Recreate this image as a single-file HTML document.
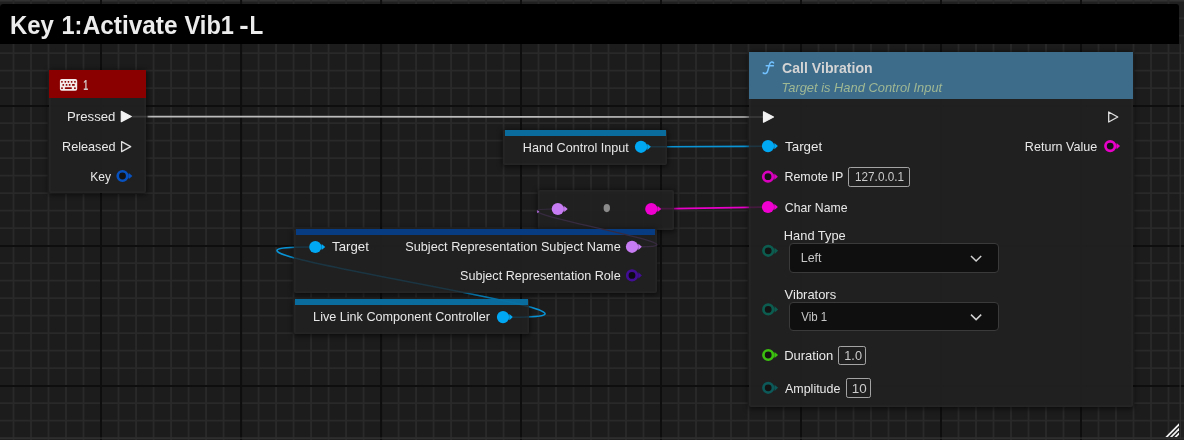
<!DOCTYPE html>
<html><head><meta charset="utf-8"><title>Key 1:Activate Vib1-L</title>
<style>
html,body{margin:0;padding:0;background:#1f1f1f;}
body{width:1184px;height:440px;overflow:hidden;position:relative;font-family:"Liberation Sans", sans-serif;}
svg{position:absolute;left:0;top:0;}
svg text{font-family:"Liberation Sans", sans-serif;white-space:pre;}
.abs{position:absolute;box-sizing:border-box;}
.node{position:absolute;box-sizing:border-box;background:rgba(32,32,32,0.96);border-radius:2px;box-shadow:0 1px 5px 1px rgba(0,0,0,0.55), inset 0 0 0 1.8px rgba(255,255,255,0.022);}
.hdr{position:absolute;box-sizing:border-box;}
.inp{position:absolute;box-sizing:border-box;border:1px solid #a4a4a4;border-radius:2.2px;background:#1f1f1f;}
.dd{position:absolute;box-sizing:border-box;border:1px solid #3a3a3a;border-radius:4px;background:#0f0f0f;}
</style></head><body>

<svg width="1184" height="440" viewBox="0 0 1184 440" style="z-index:0">
<rect x="0" y="0" width="1184" height="440" fill="#202020"/>
<rect x="0" y="4" width="1179.5" height="433.5" fill="#1c1c1c"/>
<rect x="0" y="0" width="1184" height="1.5" fill="#323232"/>
<path d="M13.5 0V440M31.0 0V440M48.5 0V440M66.0 0V440M83.5 0V440M118.5 0V440M136.1 0V440M153.6 0V440M171.1 0V440M188.6 0V440M206.1 0V440M223.6 0V440M258.6 0V440M276.1 0V440M293.6 0V440M311.1 0V440M328.6 0V440M346.1 0V440M363.6 0V440M398.6 0V440M416.1 0V440M433.6 0V440M451.1 0V440M468.6 0V440M486.1 0V440M503.6 0V440M538.5 0V440M556.0 0V440M573.5 0V440M591.0 0V440M608.5 0V440M626.0 0V440M643.5 0V440M678.5 0V440M696.0 0V440M713.5 0V440M731.0 0V440M748.5 0V440M766.0 0V440M783.5 0V440M818.5 0V440M836.0 0V440M853.5 0V440M871.0 0V440M888.5 0V440M906.0 0V440M923.5 0V440M958.5 0V440M976.0 0V440M993.5 0V440M1011.0 0V440M1028.5 0V440M1046.0 0V440M1063.5 0V440M1098.5 0V440M1116.0 0V440M1133.5 0V440M1151.0 0V440M1168.5 0V440M0 18.1H1184M0 35.6H1184M0 53.1H1184M0 70.6H1184M0 88.1H1184M0 123.1H1184M0 140.6H1184M0 158.1H1184M0 175.6H1184M0 193.1H1184M0 210.6H1184M0 228.1H1184M0 263.1H1184M0 280.6H1184M0 298.1H1184M0 315.6H1184M0 333.1H1184M0 350.6H1184M0 368.1H1184M0 403.1H1184M0 420.6H1184M0 438.1H1184" stroke="#292929" stroke-width="1.9" fill="none"/>
<path d="M101.0 0V440M241.1 0V440M381.1 0V440M521.0 0V440M661.0 0V440M801.0 0V440M941.0 0V440M1081.0 0V440M0 105.9H1184M0 245.9H1184M0 386.0H1184" stroke="#0e0e0e" stroke-width="2" fill="none"/>
<path d="M1180.2 44V438.1H0" stroke="#313131" stroke-width="1.2" fill="none"/>
<path d="M0 44V7.5Q0 4 3.5 4H1176Q1179 4 1179 7V44Z" fill="#000"/>
<clipPath id="gc"><rect x="1150" y="410" width="29.1" height="26.9"/></clipPath>
<g clip-path="url(#gc)" stroke="#f4f4f4" stroke-width="1.75" fill="none"><path d="M1163.60 440L1183.00 420.60"/><path d="M1168.10 440L1183.00 425.10"/><path d="M1172.60 440L1183.00 429.60"/></g>
<path d="M147.5 116.6L749 117" stroke="#bcbcbc" stroke-width="1.7" fill="none"/>
<path d="M666 146.8L749 146.4" stroke="#0a94d6" stroke-width="1.6" fill="none"/>
<path d="M673.5 208.6L749 207.4" stroke="#e800c8" stroke-width="1.8" fill="none"/>
<path d="M513 317.3C 678 317.3 144 247 309 247" stroke="#0a94d6" stroke-width="1.5" fill="none"/>
</svg>
<div class="node" style="left:49.2px;top:70px;width:97.2px;height:123px;"></div>
<div class="hdr" style="left:49.2px;top:70px;width:97px;height:28px;background:#8a0000;"></div>
<div class="node" style="left:503.4px;top:129.6px;width:163.6px;height:35.9px;"></div>
<div class="hdr" style="left:505px;top:130.1px;width:161.2px;height:5.9px;background:#0a6c9c;"></div>
<div class="node" style="left:538.3px;top:189.5px;width:135.4px;height:40px;background:rgba(33,33,33,0.92);"></div>
<div class="node" style="left:294px;top:228.7px;width:363.4px;height:64.1px;"></div>
<div class="hdr" style="left:296.4px;top:229.1px;width:358.8px;height:5.5px;background:#083c82;"></div>
<div class="node" style="left:294.2px;top:298.5px;width:234.6px;height:35.8px;"></div>
<div class="hdr" style="left:295.4px;top:299px;width:232.5px;height:5.6px;background:#0a6c9c;"></div>
<div class="node" style="left:748.8px;top:51.8px;width:384.4px;height:355px;"></div>
<div class="hdr" style="left:748.8px;top:51.8px;width:384.3px;height:47px;background:#3d6b8a;"></div>
<div class="inp" style="left:847.9px;top:167px;width:62.1px;height:19.8px;"></div>
<div class="inp" style="left:837.9px;top:345.8px;width:28.4px;height:19.3px;"></div>
<div class="inp" style="left:845.9px;top:378.1px;width:24.9px;height:19.5px;"></div>
<div class="dd" style="left:789px;top:243.2px;width:209.5px;height:30.2px;"></div>
<div class="dd" style="left:789px;top:301.8px;width:209.5px;height:29.6px;"></div>
<svg width="1184" height="440" viewBox="0 0 1184 440" style="z-index:5;will-change:transform;">
<defs><filter id="pb" color-interpolation-filters="sRGB" x="-20%" y="-20%" width="140%" height="140%"><feGaussianBlur stdDeviation="0.5"/></filter></defs>
<g fill="none" stroke-width="1.6"><path d="M650 146.8L666.5 146.8M749 146.4L763 146.2" stroke="#0a94d6" stroke-opacity="0.18"/><path d="M660 208.6L673.5 208.6M749 207.4L763 207.1" stroke="#e800c8" stroke-opacity="0.18"/><path d="M132 116.6L147.5 116.6M749 117L763.5 117" stroke="#ffffff" stroke-opacity="0.13"/></g>
<path d="M513 317.3C 678 317.3 144 247 309 247" stroke="#0a94d6" stroke-opacity="0.15" stroke-width="1.5" fill="none"/>
<path d="M642 246.8C 718 246.8 476 209 552 209" stroke="#372b40" stroke-width="1.2" fill="none"/>
<rect x="59.9" y="79" width="17.3" height="11.8" rx="1.8" fill="#f4eaea"/>
<g fill="#8a0000"><rect x="61.1" y="80.9" width="1.7" height="1.8" rx="0.6"/><rect x="64.5" y="80.9" width="1.7" height="1.8" rx="0.6"/><rect x="67.6" y="80.9" width="1.7" height="1.8" rx="0.6"/><rect x="70.8" y="80.9" width="1.7" height="1.8" rx="0.6"/><rect x="74.1" y="80.9" width="1.7" height="1.8" rx="0.6"/><rect x="62.4" y="84.0" width="1.7" height="1.8" rx="0.6"/><rect x="65.7" y="84.0" width="1.7" height="1.8" rx="0.6"/><rect x="68.8" y="84.0" width="1.7" height="1.8" rx="0.6"/><rect x="72.0" y="84.0" width="2.8" height="1.8" rx="0.6"/><rect x="61.15" y="87.2" width="1.7" height="1.8" rx="0.6"/><rect x="74.05" y="87.2" width="1.7" height="1.8" rx="0.6"/><rect x="64.8" y="87.3" width="7.1" height="1.6" rx="0.6"/></g>
<text x="83.21" y="89.9" font-size="14.9" fill="#d2c4c4" font-weight="bold" font-style="normal" textLength="4.92" lengthAdjust="spacingAndGlyphs">1</text>
<text x="67.08" y="120.9" font-size="13.4" fill="#e8e8e8" font-weight="normal" font-style="normal" textLength="48.28" lengthAdjust="spacingAndGlyphs">Pressed</text>
<path d="M121.3 111.3L131.3 116.5L121.3 121.7Z" fill="#f2f2f2" stroke="#f2f2f2" stroke-width="1.2" stroke-linejoin="round"/>
<text x="62.06" y="150.6" font-size="13.4" fill="#e8e8e8" font-weight="normal" font-style="normal" textLength="53.43" lengthAdjust="spacingAndGlyphs">Released</text>
<path d="M121.6 141.6L130.7 146.6L121.6 151.6Z" fill="#242424" stroke="#e0e0e0" stroke-width="1.3" stroke-linejoin="round"/>
<text x="90.19" y="180.8" font-size="13.4" fill="#e8e8e8" font-weight="normal" font-style="normal" textLength="20.76" lengthAdjust="spacingAndGlyphs">Key</text>
<g filter="url(#pb)"><path d="M127.5 172.8L130.5 176.0L127.5 179.2Z" fill="#0852c0" fill-opacity="0.6"/><path d="M128.9 172.9L132.4 176.0L128.9 179.1Z" fill="#0852c0"/><circle cx="122.5" cy="176.0" r="4.75" fill="#131313" stroke="#0852c0" stroke-width="2.7"/></g>
<text x="522.86" y="151.8" font-size="13.4" fill="#e8e8e8" font-weight="normal" font-style="normal" textLength="105.94" lengthAdjust="spacingAndGlyphs">Hand Control Input</text>
<g filter="url(#pb)"><path d="M646.0 143.6L649.0 146.8L646.0 150.0Z" fill="#00a8f4" fill-opacity="0.6"/><path d="M647.4 143.7L650.9 146.8L647.4 149.9Z" fill="#00a8f4"/><circle cx="641.0" cy="146.8" r="6.10" fill="#00a8f4"/></g>
<g filter="url(#pb)"><path d="M562.8 205.8L565.8 209.0L562.8 212.2Z" fill="#c87cf4" fill-opacity="0.6"/><path d="M564.2 205.9L567.7 209.0L564.2 212.1Z" fill="#c87cf4"/><circle cx="557.8" cy="209.0" r="6.10" fill="#c87cf4"/></g>
<ellipse cx="606.8" cy="208.1" rx="3.2" ry="4.1" fill="#8a8a8a"/>
<g filter="url(#pb)"><path d="M656.3 205.8L659.3 209.0L656.3 212.2Z" fill="#f000d0" fill-opacity="0.6"/><path d="M657.7 205.9L661.2 209.0L657.7 212.1Z" fill="#f000d0"/><circle cx="651.3" cy="209.0" r="6.10" fill="#f000d0"/></g>
<path d="M537.3 210.2L539.4 211.7L537.3 213.2Z" fill="#c070ec"/>
<g filter="url(#pb)"><path d="M320.3 243.8L323.3 247.0L320.3 250.2Z" fill="#00a8f4" fill-opacity="0.6"/><path d="M321.7 243.9L325.2 247.0L321.7 250.1Z" fill="#00a8f4"/><circle cx="315.3" cy="247.0" r="6.10" fill="#00a8f4"/></g>
<text x="332.10" y="250.9" font-size="13.4" fill="#e8e8e8" font-weight="normal" font-style="normal" textLength="36.71" lengthAdjust="spacingAndGlyphs">Target</text>
<text x="405.26" y="250.9" font-size="13.4" fill="#e8e8e8" font-weight="normal" font-style="normal" textLength="215.46" lengthAdjust="spacingAndGlyphs">Subject Representation Subject Name</text>
<g filter="url(#pb)"><path d="M637.0 243.6L640.0 246.8L637.0 250.0Z" fill="#c87cf4" fill-opacity="0.6"/><path d="M638.4 243.7L641.9 246.8L638.4 249.9Z" fill="#c87cf4"/><circle cx="632.0" cy="246.8" r="6.10" fill="#c87cf4"/></g>
<text x="460.08" y="280.0" font-size="13.4" fill="#e8e8e8" font-weight="normal" font-style="normal" textLength="160.60" lengthAdjust="spacingAndGlyphs">Subject Representation Role</text>
<g filter="url(#pb)"><path d="M637.0 272.2L640.0 275.4L637.0 278.6Z" fill="#420e94" fill-opacity="0.6"/><path d="M638.4 272.3L641.9 275.4L638.4 278.5Z" fill="#420e94"/><circle cx="632.0" cy="275.4" r="4.75" fill="#0e0a14" stroke="#420e94" stroke-width="2.7"/></g>
<text x="313.11" y="321.0" font-size="13.4" fill="#e8e8e8" font-weight="normal" font-style="normal" textLength="176.82" lengthAdjust="spacingAndGlyphs">Live Link Component Controller</text>
<g filter="url(#pb)"><path d="M508.0 313.9L511.0 317.1L508.0 320.3Z" fill="#00a8f4" fill-opacity="0.6"/><path d="M509.4 314.0L512.9 317.1L509.4 320.2Z" fill="#00a8f4"/><circle cx="503.0" cy="317.1" r="6.10" fill="#00a8f4"/></g>
<path d="M773.6 62.9C772.6 61.4 770.2 61.6 769.6 64.2L767.6 71.2C767 73.6 764.6 74.2 763.2 72.9M766.2 65.8H773.4" stroke="#72c2ff" stroke-width="1.5" fill="none" stroke-linecap="round"/>
<text x="782.09" y="72.7" font-size="14.9" fill="#d4d4d4" font-weight="bold" font-style="normal" textLength="90.62" lengthAdjust="spacingAndGlyphs">Call Vibration</text>
<text x="781.55" y="92.0" font-size="13.4" fill="#9fb894" font-weight="normal" font-style="italic" textLength="160.63" lengthAdjust="spacingAndGlyphs">Target is Hand Control Input</text>
<path d="M763.5 111.8L773.5 117.0L763.5 122.2Z" fill="#f2f2f2" stroke="#f2f2f2" stroke-width="1.2" stroke-linejoin="round"/>
<path d="M1108.7 112.0L1117.8 117.0L1108.7 122.0Z" fill="#242424" stroke="#e0e0e0" stroke-width="1.3" stroke-linejoin="round"/>
<g filter="url(#pb)"><path d="M773.0 142.9L776.0 146.1L773.0 149.3Z" fill="#00a8f4" fill-opacity="0.6"/><path d="M774.4 143.0L777.9 146.1L774.4 149.2Z" fill="#00a8f4"/><circle cx="768.0" cy="146.1" r="6.10" fill="#00a8f4"/></g>
<text x="785.08" y="150.9" font-size="13.4" fill="#e8e8e8" font-weight="normal" font-style="normal" textLength="37.10" lengthAdjust="spacingAndGlyphs">Target</text>
<text x="1024.86" y="150.6" font-size="13.4" fill="#e8e8e8" font-weight="normal" font-style="normal" textLength="72.45" lengthAdjust="spacingAndGlyphs">Return Value</text>
<g filter="url(#pb)"><path d="M1115.2 142.9L1118.2 146.1L1115.2 149.3Z" fill="#e800c8" fill-opacity="0.6"/><path d="M1116.6 143.0L1120.1 146.1L1116.6 149.2Z" fill="#e800c8"/><circle cx="1110.2" cy="146.1" r="4.75" fill="#131313" stroke="#e800c8" stroke-width="2.7"/></g>
<g filter="url(#pb)"><path d="M773.0 173.5L776.0 176.7L773.0 179.9Z" fill="#d800bc" fill-opacity="0.6"/><path d="M774.4 173.6L777.9 176.7L774.4 179.8Z" fill="#d800bc"/><circle cx="768.0" cy="176.7" r="4.75" fill="#131313" stroke="#d800bc" stroke-width="2.7"/></g>
<text x="784.45" y="180.8" font-size="13.4" fill="#e8e8e8" font-weight="normal" font-style="normal" textLength="58.80" lengthAdjust="spacingAndGlyphs">Remote IP</text>
<text x="855.04" y="180.9" font-size="13.4" fill="#cacaca" font-weight="normal" font-style="normal" textLength="48.97" lengthAdjust="spacingAndGlyphs">127.0.0.1</text>
<g filter="url(#pb)"><path d="M773.0 203.8L776.0 207.0L773.0 210.2Z" fill="#f000d0" fill-opacity="0.6"/><path d="M774.4 203.9L777.9 207.0L774.4 210.1Z" fill="#f000d0"/><circle cx="768.0" cy="207.0" r="6.10" fill="#f000d0"/></g>
<text x="784.85" y="211.8" font-size="13.4" fill="#e8e8e8" font-weight="normal" font-style="normal" textLength="62.65" lengthAdjust="spacingAndGlyphs">Char Name</text>
<text x="783.86" y="239.7" font-size="13.4" fill="#e8e8e8" font-weight="normal" font-style="normal" textLength="61.80" lengthAdjust="spacingAndGlyphs">Hand Type</text>
<g filter="url(#pb)"><path d="M773.2 247.6L776.2 250.8L773.2 254.0Z" fill="#0c5c50" fill-opacity="0.6"/><path d="M774.6 247.7L778.1 250.8L774.6 253.9Z" fill="#0c5c50"/><circle cx="768.2" cy="250.8" r="4.75" fill="#131313" stroke="#0c5c50" stroke-width="2.7"/></g>
<text x="800.79" y="262.4" font-size="13.4" fill="#c8c8c8" font-weight="normal" font-style="normal" textLength="20.75" lengthAdjust="spacingAndGlyphs">Left</text>
<path d="M971 256L976.1 261L981.2 256" stroke="#d2d2d2" stroke-width="1.5" fill="none"/>
<text x="784.61" y="298.6" font-size="13.4" fill="#e8e8e8" font-weight="normal" font-style="normal" textLength="51.53" lengthAdjust="spacingAndGlyphs">Vibrators</text>
<g filter="url(#pb)"><path d="M773.2 306.2L776.2 309.4L773.2 312.6Z" fill="#0c5c50" fill-opacity="0.6"/><path d="M774.6 306.3L778.1 309.4L774.6 312.5Z" fill="#0c5c50"/><circle cx="768.2" cy="309.4" r="4.75" fill="#131313" stroke="#0c5c50" stroke-width="2.7"/></g>
<text x="801.29" y="321.0" font-size="13.4" fill="#c8c8c8" font-weight="normal" font-style="normal" textLength="25.97" lengthAdjust="spacingAndGlyphs">Vib 1</text>
<path d="M971 314.6L976.1 319.6L981.2 314.6" stroke="#d2d2d2" stroke-width="1.5" fill="none"/>
<g filter="url(#pb)"><path d="M773.2 351.8L776.2 355.0L773.2 358.2Z" fill="#3cc010" fill-opacity="0.6"/><path d="M774.6 351.9L778.1 355.0L774.6 358.1Z" fill="#3cc010"/><circle cx="768.2" cy="355.0" r="4.75" fill="#131313" stroke="#3cc010" stroke-width="2.7"/></g>
<text x="784.19" y="360.0" font-size="13.4" fill="#e8e8e8" font-weight="normal" font-style="normal" textLength="49.08" lengthAdjust="spacingAndGlyphs">Duration</text>
<text x="844.29" y="360.1" font-size="13.4" fill="#cacaca" font-weight="normal" font-style="normal" textLength="17.67" lengthAdjust="spacingAndGlyphs">1.0</text>
<g filter="url(#pb)"><path d="M773.2 384.6L776.2 387.8L773.2 391.0Z" fill="#0d5858" fill-opacity="0.6"/><path d="M774.6 384.7L778.1 387.8L774.6 390.9Z" fill="#0d5858"/><circle cx="768.2" cy="387.8" r="4.75" fill="#131313" stroke="#0d5858" stroke-width="2.7"/></g>
<text x="785.02" y="392.8" font-size="13.4" fill="#e8e8e8" font-weight="normal" font-style="normal" textLength="55.36" lengthAdjust="spacingAndGlyphs">Amplitude</text>
<text x="851.70" y="392.8" font-size="13.4" fill="#cacaca" font-weight="normal" font-style="normal" textLength="14.94" lengthAdjust="spacingAndGlyphs">10</text>
<text y="34.4" font-size="26.4" fill="#ececec" font-weight="bold"><tspan x="10.01" textLength="43.90" lengthAdjust="spacingAndGlyphs">Key</tspan><tspan> </tspan><tspan x="61.52" textLength="20.91" lengthAdjust="spacingAndGlyphs">1:</tspan><tspan x="82.70" textLength="94.83" lengthAdjust="spacingAndGlyphs">Activate</tspan><tspan> </tspan><tspan x="184.56" textLength="49.37" lengthAdjust="spacingAndGlyphs">Vib1</tspan><tspan x="239.29" textLength="9.39" lengthAdjust="spacingAndGlyphs">-</tspan><tspan x="249.38" textLength="13.73" lengthAdjust="spacingAndGlyphs">L</tspan></text>
</svg>
</body></html>
